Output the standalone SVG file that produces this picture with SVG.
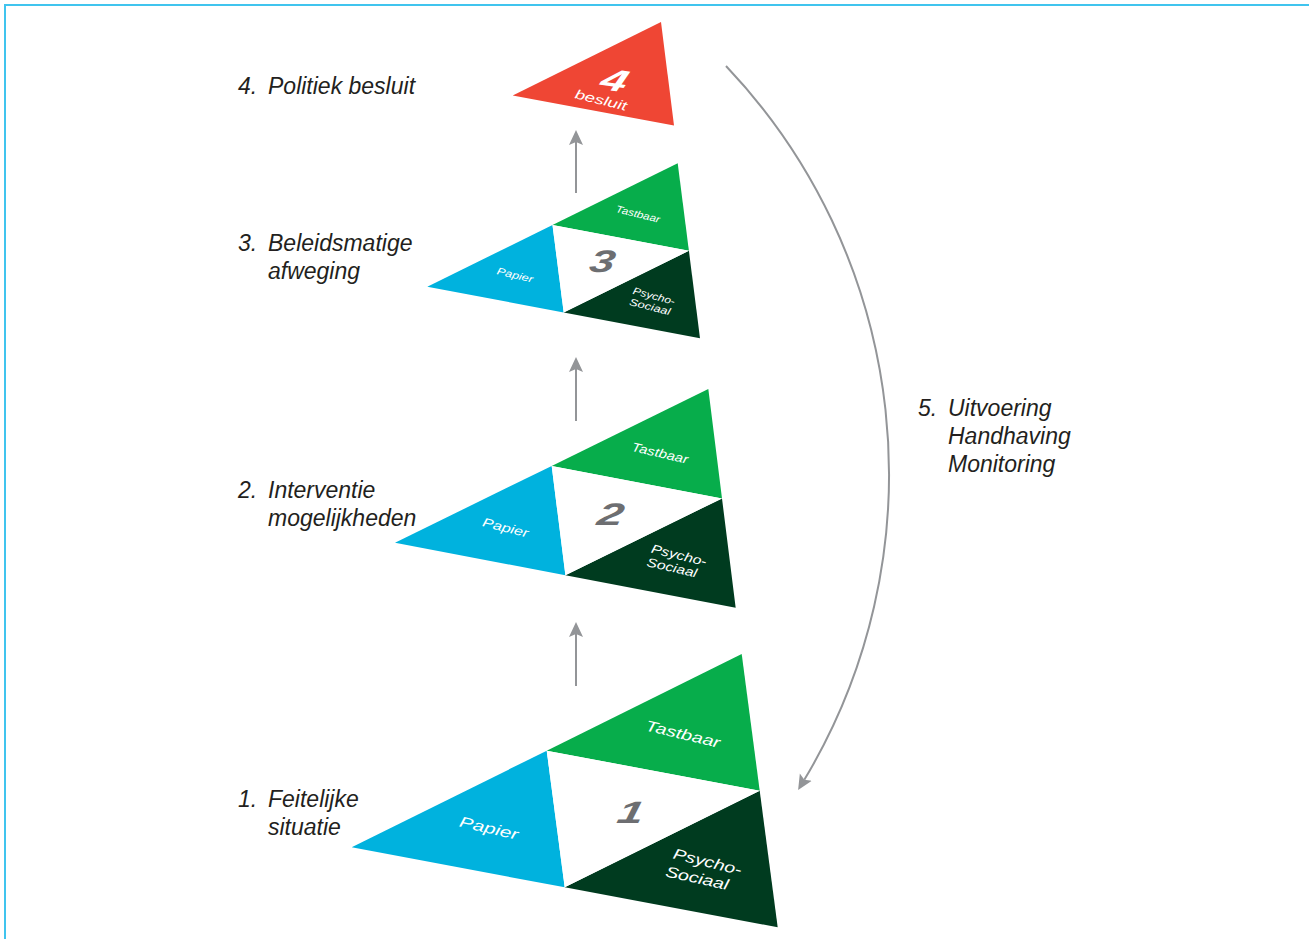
<svg xmlns="http://www.w3.org/2000/svg" width="1309" height="939" viewBox="0 0 1309 939">
<style>
.lbl{font-family:"Liberation Sans",Arial,sans-serif;font-style:italic;font-size:23px;fill:#231f20}
.in{font-family:"Liberation Sans",Arial,sans-serif;font-style:italic;fill:#ffffff;text-anchor:middle}
.num{font-family:"Liberation Sans",Arial,sans-serif;font-style:italic;font-weight:bold;font-size:31px;fill:#6d6e71;text-anchor:middle}
.cy{fill:#00b2de}
.gr{fill:#07ad4b}
.dk{fill:#003b1f}
.wh{fill:#ffffff}
.conn{fill:none;stroke:#939598;stroke-width:2;marker-end:url(#ah)}
</style>
<defs>
<marker id="ah" markerUnits="userSpaceOnUse" markerWidth="16" markerHeight="16" viewBox="0 -8 16 16" refX="3" refY="0" orient="auto">
<path d="M0,-7 L15,0 L0,7 L3,0 Z" fill="#939598"/>
</marker>
</defs>
<rect x="5" y="5" width="1320" height="950" fill="none" stroke="#40c4ee" stroke-width="2"/>

<g id="node-4">
<polygon points="512.7,95.5 661,22 674,125.5" fill="#ef4634"/>
<text class="in" style="font-weight:bold;font-size:31px" transform="translate(615,80) rotate(8) scale(1.5,1) skewX(-8)" y="11">4</text>
<text class="in" style="font-size:13px" transform="translate(601,100) rotate(14)" y="4.5" textLength="53" lengthAdjust="spacingAndGlyphs">besluit</text>
</g>

<g id="node-3">
<polygon class="cy" points="427.3,286.7 552.5,225 563.7,312.5"/>
<polygon class="gr" points="552.5,225 677.7,163.3 688.9,250.8"/>
<polygon class="dk" points="563.7,312.5 688.9,250.8 700,338.3"/>
<polygon class="wh" points="552.5,225 688.9,250.8 563.7,312.5"/>
<text class="in" style="font-size:10px" transform="translate(638,214) rotate(14)" y="3.5" textLength="45" lengthAdjust="spacingAndGlyphs">Tastbaar</text>
<text class="in" style="font-size:10px" transform="translate(515,275) rotate(14)" y="3.5" textLength="37" lengthAdjust="spacingAndGlyphs">Papier</text>
<text class="in" style="font-size:10px" transform="translate(654,296) rotate(15)" y="3.5" textLength="43" lengthAdjust="spacingAndGlyphs">Psycho-</text>
<text class="in" style="font-size:10px" transform="translate(650,306.7) rotate(14)" y="3.5" textLength="42" lengthAdjust="spacingAndGlyphs">Sociaal</text>
<text class="num" transform="translate(602.7,261) scale(1.45,1) skewX(-8)" y="11">3</text>
</g>

<g id="node-2">
<polygon class="cy" points="395,542.7 551.7,465.9 565.4,575.2"/>
<polygon class="gr" points="551.7,465.9 708.3,389 722,498.4"/>
<polygon class="dk" points="565.4,575.2 722,498.4 735.7,607.7"/>
<polygon class="wh" points="551.7,465.9 722,498.4 565.4,575.2"/>
<text class="in" style="font-size:12.5px" transform="translate(660,453) rotate(13)" y="4.4" textLength="57.6" lengthAdjust="spacingAndGlyphs">Tastbaar</text>
<text class="in" style="font-size:12.5px" transform="translate(505.5,527.5) rotate(14)" y="4.4" textLength="47" lengthAdjust="spacingAndGlyphs">Papier</text>
<text class="in" style="font-size:12.5px" transform="translate(679,555) rotate(14)" y="4.4" textLength="56.6" lengthAdjust="spacingAndGlyphs">Psycho-</text>
<text class="in" style="font-size:12.5px" transform="translate(672,567.5) rotate(13)" y="4.4" textLength="51.3" lengthAdjust="spacingAndGlyphs">Sociaal</text>
<text class="num" transform="translate(611,514) scale(1.5,1) skewX(-8)" y="11">2</text>
</g>

<g id="node-1">
<polygon class="cy" points="351.7,847.3 546.7,750.7 564.7,887.3"/>
<polygon class="gr" points="546.7,750.7 741.7,654 759.7,790.7"/>
<polygon class="dk" points="564.7,887.3 759.7,790.7 777.7,927.3"/>
<polygon class="wh" points="546.7,750.7 759.7,790.7 564.7,887.3"/>
<text class="in" style="font-size:15px" transform="translate(683,734) rotate(13.5)" y="5.2" textLength="76" lengthAdjust="spacingAndGlyphs">Tastbaar</text>
<text class="in" style="font-size:15px" transform="translate(489,828) rotate(13)" y="5.2" textLength="60" lengthAdjust="spacingAndGlyphs">Papier</text>
<text class="in" style="font-size:15px" transform="translate(707.5,861.7) rotate(14)" y="5.2" textLength="70" lengthAdjust="spacingAndGlyphs">Psycho-</text>
<text class="in" style="font-size:15px" transform="translate(697,878) rotate(12.5)" y="5.2" textLength="64" lengthAdjust="spacingAndGlyphs">Sociaal</text>
<text class="num" transform="translate(631,811.7) scale(1.5,1) skewX(-8)" y="11">1</text>
</g>

<g id="labels">
<text class="lbl" x="238" y="94">4.</text>
<text class="lbl" x="268" y="94">Politiek besluit</text>
<text class="lbl" x="238" y="251">3.</text>
<text class="lbl" x="268" y="251">Beleidsmatige</text>
<text class="lbl" x="268" y="279">afweging</text>
<text class="lbl" x="238" y="498">2.</text>
<text class="lbl" x="268" y="498">Interventie</text>
<text class="lbl" x="268" y="526">mogelijkheden</text>
<text class="lbl" x="238" y="807">1.</text>
<text class="lbl" x="268" y="807">Feitelijke</text>
<text class="lbl" x="268" y="835">situatie</text>
<text class="lbl" x="918" y="416">5.</text>
<text class="lbl" x="948" y="416">Uitvoering</text>
<text class="lbl" x="948" y="444">Handhaving</text>
<text class="lbl" x="948" y="472">Monitoring</text>
</g>

<g id="connectors">
<path class="conn" d="M576,193 L576,142"/>
<path class="conn" d="M576,421 L576,369"/>
<path class="conn" d="M576,686 L576,634"/>
<path class="conn" d="M726,66 A593,593 0 0 1 804.3,779.8"/>
</g>
</svg>
